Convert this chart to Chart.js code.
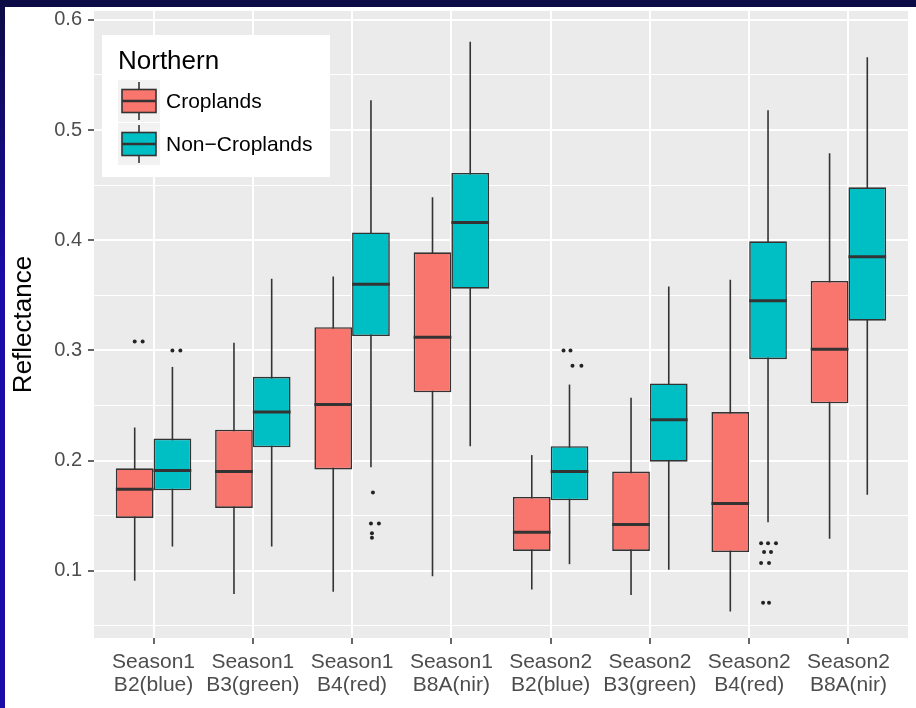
<!DOCTYPE html>
<html>
<head>
<meta charset="utf-8">
<script src="https://cdn.jsdelivr.net/npm/chart.js@4"></script>
<style>
  html, body { margin: 0; padding: 0; }
  body { width: 916px; height: 708px; background: #0d0b45; position: relative; overflow: hidden; }
  #strip { position: absolute; left: 0; top: 0; width: 5px; height: 708px;
           background: linear-gradient(#0d0b45, #1a0ca8 40%, #1a0ca8); }
  #frame { position: absolute; left: 5px; top: 7px; width: 911px; height: 701px; background: #fff; }
</style>
</head>
<body>
<div id="strip"></div>
<div id="frame"><canvas id="myChart"></canvas></div>
<script>
let xLabels = [
  ["Season1", "B2(blue)"], ["Season1", "B3(green)"], ["Season1", "B4(red)"], ["Season1", "B8A(nir)"],
  ["Season2", "B2(blue)"], ["Season2", "B3(green)"], ["Season2", "B4(red)"], ["Season2", "B8A(nir)"]
];

// Croplands: whisker low, Q1, median, Q3, whisker high
let cropLo  = [0.091, 0.079, 0.081, 0.095, 0.083, 0.078, 0.063, 0.129];
let cropQ1  = [0.148, 0.157, 0.192, 0.262, 0.118, 0.118, 0.117, 0.252];
let cropMed = [0.174, 0.190, 0.251, 0.312, 0.135, 0.142, 0.161, 0.301];
let cropQ3  = [0.193, 0.228, 0.321, 0.389, 0.167, 0.190, 0.244, 0.363];
let cropHi  = [0.230, 0.307, 0.367, 0.439, 0.205, 0.257, 0.364, 0.479];

// Non-Croplands
let nonLo  = [0.122, 0.122, 0.194, 0.213, 0.106, 0.101, 0.144, 0.169];
let nonQ1  = [0.173, 0.212, 0.313, 0.356, 0.164, 0.199, 0.292, 0.327];
let nonMed = [0.191, 0.244, 0.360, 0.416, 0.190, 0.237, 0.345, 0.385];
let nonQ3  = [0.220, 0.276, 0.407, 0.461, 0.213, 0.270, 0.399, 0.448];
let nonHi  = [0.285, 0.365, 0.527, 0.580, 0.269, 0.358, 0.518, 0.566];

// isolated points outside the whiskers (category, group 0=crop 1=non, jitter, value)
let outCat   = [0, 0, 0, 0, 2, 2, 2, 2, 2, 4, 4, 4, 4, 6, 6, 6, 6, 6, 6, 6, 6, 6];
let outGroup = [0, 0, 1, 1, 1, 1, 1, 1, 1, 1, 1, 1, 1, 1, 1, 1, 1, 1, 1, 1, 1, 1];
let outDx    = [0, 0.08, 0, 0.08, 0.02, 0, 0.08, 0.01, 0.01, -0.06, 0.01, 0.03, 0.12,
                -0.07, 0, 0.08, -0.04, 0.03, -0.07, 0.01, -0.05, 0.01];
let outVal   = [0.308, 0.308, 0.300, 0.300, 0.171, 0.143, 0.143, 0.134, 0.130, 0.300, 0.300, 0.286, 0.286,
                0.125, 0.125, 0.125, 0.117, 0.117, 0.107, 0.107, 0.071, 0.071];

let yTickVals = [0.05, 0.1, 0.15, 0.2, 0.25, 0.3, 0.35, 0.4, 0.45, 0.5, 0.55, 0.6];

let cropColor = "#F8766D";
let nonColor = "#00BFC4";
let lineColor = "#333333";
let dodge = 0.19;

function isMajor(v) {
  return Math.abs(v * 10 - Math.round(v * 10)) < 1e-6;
}

let outPoints = outCat.map((c, i) => ({
  x: c + (outGroup[i] === 0 ? -dodge : dodge) + outDx[i],
  y: outVal[i]
}));

let boxStats = [
  { lo: cropLo, med: cropMed, hi: cropHi, q1: cropQ1, q3: cropQ3 },
  { lo: nonLo, med: nonMed, hi: nonHi, q1: nonQ1, q3: nonQ3 }
];

// no extra room for edge labels, the panel is fixed
function noPad(scale) {
  scale.paddingTop = 0;
  scale.paddingBottom = 0;
  scale.paddingLeft = 0;
  scale.paddingRight = 0;
}

// grey panel
const panelPlugin = {
  id: "panel",
  beforeDraw(chart) {
    const { ctx, chartArea: a } = chart;
    ctx.save();
    ctx.fillStyle = "#EBEBEB";
    ctx.fillRect(a.left, a.top, a.right - a.left, a.bottom - a.top);
    ctx.restore();
  }
};

// whiskers under the boxes, medians on top
const boxPlugin = {
  id: "boxplot",
  beforeDatasetsDraw(chart) {
    const ctx = chart.ctx;
    const y = chart.scales.y;
    ctx.save();
    ctx.strokeStyle = lineColor;
    ctx.lineWidth = 1.6;
    [1, 2].forEach((di, g) => {
      const meta = chart.getDatasetMeta(di);
      meta.data.forEach((el, i) => {
        const s = boxStats[g];
        ctx.beginPath();
        ctx.moveTo(el.x, y.getPixelForValue(s.lo[i]));
        ctx.lineTo(el.x, y.getPixelForValue(s.hi[i]));
        ctx.stroke();
      });
    });
    ctx.restore();
  },
  afterDatasetsDraw(chart) {
    const ctx = chart.ctx;
    const y = chart.scales.y;
    ctx.save();
    ctx.strokeStyle = lineColor;
    ctx.lineWidth = 3;
    [1, 2].forEach((di, g) => {
      const meta = chart.getDatasetMeta(di);
      meta.data.forEach((el, i) => {
        const py = y.getPixelForValue(boxStats[g].med[i]);
        ctx.beginPath();
        ctx.moveTo(el.x - el.width / 2, py);
        ctx.lineTo(el.x + el.width / 2, py);
        ctx.stroke();
      });
    });
    ctx.restore();
  }
};

// legend box inside the panel
const legendPlugin = {
  id: "ggLegend",
  afterDraw(chart) {
    const ctx = chart.ctx;
    const a = chart.chartArea;
    const lx = a.left + 8, ly = a.top + 24;
    ctx.save();
    ctx.fillStyle = "#ffffff";
    ctx.fillRect(lx, ly, 228, 142);
    ctx.fillStyle = "#000000";
    ctx.font = "26px 'Liberation Sans', Arial, sans-serif";
    ctx.textBaseline = "alphabetic";
    ctx.fillText("Northern", lx + 16, ly + 34);
    let items = [["Croplands", cropColor], ["Non\u2212Croplands", nonColor]];
    items.forEach((it, k) => {
      const ky = ly + 45 + k * 43;
      ctx.fillStyle = "#F2F2F2";
      ctx.fillRect(lx + 16, ky, 42, 42);
      const cx = lx + 37, cy = ky + 21;
      ctx.strokeStyle = lineColor;
      ctx.lineWidth = 1.6;
      ctx.beginPath();
      ctx.moveTo(cx, cy - 19); ctx.lineTo(cx, cy + 19);
      ctx.stroke();
      ctx.fillStyle = it[1];
      ctx.fillRect(cx - 17, cy - 11.5, 34, 23);
      ctx.strokeRect(cx - 17, cy - 11.5, 34, 23);
      ctx.lineWidth = 2.5;
      ctx.beginPath();
      ctx.moveTo(cx - 17, cy); ctx.lineTo(cx + 17, cy);
      ctx.stroke();
      ctx.fillStyle = "#000000";
      ctx.font = "21px 'Liberation Sans', Arial, sans-serif";
      ctx.textBaseline = "middle";
      ctx.fillText(it[0], lx + 64, cy + 1);
    });
    ctx.restore();
  }
};

new Chart("myChart", {
  type: "bar",
  data: {
    datasets: [
      {
        type: "scatter",
        data: outPoints,
        pointRadius: 2,
        pointBackgroundColor: "rgba(0,0,0,0.85)",
        pointBorderWidth: 0
      },
      {
        label: "Croplands",
        data: xLabels.map((l, i) => ({ x: i, y: [cropQ1[i], cropQ3[i]] })),
        backgroundColor: cropColor,
        borderColor: lineColor,
        borderWidth: 1.6,
        borderSkipped: false
      },
      {
        label: "Non-Croplands",
        data: xLabels.map((l, i) => ({ x: i, y: [nonQ1[i], nonQ3[i]] })),
        backgroundColor: nonColor,
        borderColor: lineColor,
        borderWidth: 1.6,
        borderSkipped: false
      }
    ]
  },
  options: {
    responsive: true,
    maintainAspectRatio: false,
    animation: false,
    categoryPercentage: 0.76,
    barPercentage: 1,
    layout: { padding: { top: 4, right: 8, left: 0, bottom: 0 } },
    plugins: {
      legend: { display: false },
      tooltip: { enabled: false }
    },
    scales: {
      x: {
        type: "linear",
        min: -0.6,
        max: 7.6,
        offset: false,
        afterBuildTicks: (scale) => { scale.ticks = xLabels.map((l, i) => ({ value: i })); },
        afterFit: (scale) => { scale.height = 70; noPad(scale); },
        border: { display: false },
        grid: {
          offset: false,
          color: "#ffffff",
          lineWidth: 2,
          tickColor: lineColor,
          tickLength: 6,
          tickWidth: 1.5
        },
        ticks: {
          autoSkip: false,
          maxRotation: 0,
          padding: 7,
          color: "#4D4D4D",
          font: { family: "'Liberation Sans', Arial, sans-serif", size: 21, lineHeight: 1.1 },
          callback: (v) => xLabels[v]
        }
      },
      y: {
        type: "linear",
        min: 0.039,
        max: 0.608,
        stacked: false,
        afterBuildTicks: (scale) => { scale.ticks = yTickVals.map(v => ({ value: v })); },
        afterFit: (scale) => { scale.width = 89; noPad(scale); },
        border: { display: false },
        grid: {
          color: "#ffffff",
          lineWidth: (c) => (c.tick && isMajor(c.tick.value) ? 2 : 1),
          tickColor: (c) => (c.tick && isMajor(c.tick.value) ? lineColor : "rgba(0,0,0,0)"),
          tickLength: 6,
          tickWidth: 1.5
        },
        ticks: {
          padding: 6,
          color: "#4D4D4D",
          font: { family: "'Liberation Sans', Arial, sans-serif", size: 20 },
          callback: (v) => (isMajor(v) ? v.toFixed(1) : "")
        },
        title: {
          display: true,
          text: "Reflectance",
          color: "#000000",
          padding: { top: 3, bottom: 0 },
          font: { family: "'Liberation Sans', Arial, sans-serif", size: 26 }
        }
      }
    }
  },
  plugins: [panelPlugin, boxPlugin, legendPlugin]
});
</script>
</body>
</html>
